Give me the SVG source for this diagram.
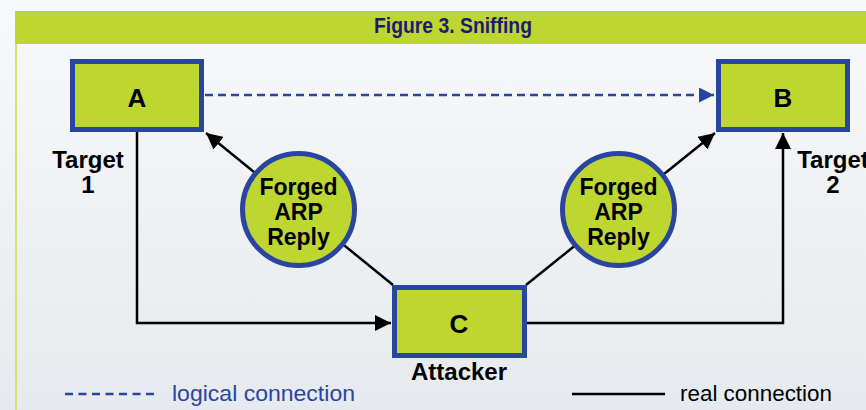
<svg xmlns="http://www.w3.org/2000/svg" width="866" height="410" viewBox="0 0 866 410">
<defs>
<linearGradient id="bg" x1="0" y1="0" x2="0" y2="1">
<stop offset="0" stop-color="#f8f9fa"/>
<stop offset="1" stop-color="#e6eaee"/>
</linearGradient>
<marker id="ah" viewBox="0 0 10 10" refX="10" refY="5" markerWidth="6.5" markerHeight="6.5" orient="auto" markerUnits="strokeWidth">
<path d="M0,0 L10,5 L0,10 z" fill="#000"/>
</marker>
<marker id="ahb" viewBox="0 0 10 10" refX="10" refY="5" markerWidth="6" markerHeight="6" orient="auto" markerUnits="strokeWidth">
<path d="M0,0 L10,5 L0,10 z" fill="#2a45a0"/>
</marker>
</defs>
<style>
.box{fill:#bdd630;stroke:#2a45a0;stroke-width:5}
.circ{fill:#bdd630;stroke:#2a45a0;stroke-width:5}
.lbl{font-family:"Liberation Sans",Arial,sans-serif;font-weight:bold;fill:#000;text-anchor:middle}
.node{font-size:26px}
.real{stroke:#000;stroke-width:2.5;fill:none}
.logic{stroke:#2a45a0;stroke-width:2.5;fill:none;stroke-dasharray:8 5}
.leg{font-family:"Liberation Sans",Arial,sans-serif;font-size:22px}
</style>
<rect x="0" y="0" width="866" height="410" fill="url(#bg)"/>
<rect x="15" y="11" width="851" height="33" fill="#bdd630"/>
<line x1="16" y1="44" x2="16" y2="410" stroke="#d6e26a" stroke-width="2"/>
<text x="453" y="33" font-family="Liberation Sans,Arial,sans-serif" font-weight="bold" font-size="22" fill="#1c1a72" text-anchor="middle" textLength="158" lengthAdjust="spacingAndGlyphs">Figure 3. Sniffing</text>

<g id="connectors">
<line class="logic" x1="205" y1="95" x2="714" y2="95" marker-end="url(#ahb)"/>
<line class="real" x1="393" y1="285" x2="206" y2="133" marker-end="url(#ah)"/>
<line class="real" x1="526" y1="285" x2="715" y2="133" marker-end="url(#ah)"/>
<polyline class="real" points="137,132 137,323 391,323" marker-end="url(#ah)"/>
<polyline class="real" points="527,323 783,323 783,133" marker-end="url(#ah)"/>
</g>

<g id="nodeA">
<rect class="box" x="72.5" y="61.5" width="129" height="68"/>
<text class="lbl node" x="137" y="107">A</text>
</g>
<g id="nodeB">
<rect class="box" x="718.5" y="61.5" width="129" height="68"/>
<text class="lbl node" x="783" y="107">B</text>
</g>
<g id="nodeC">
<rect class="box" x="394.5" y="287.5" width="130" height="68"/>
<text class="lbl node" x="459" y="333">C</text>
</g>
<g id="forged1">
<circle class="circ" cx="298.5" cy="209.5" r="56"/>
<text class="lbl" x="298.5" y="195" style="font-size:23px">Forged</text>
<text class="lbl" x="298.5" y="220" style="font-size:23px">ARP</text>
<text class="lbl" x="298.5" y="245" style="font-size:23px">Reply</text>
</g>
<g id="forged2">
<circle class="circ" cx="618.5" cy="209.5" r="56"/>
<text class="lbl" x="618.5" y="195" style="font-size:23px">Forged</text>
<text class="lbl" x="618.5" y="220" style="font-size:23px">ARP</text>
<text class="lbl" x="618.5" y="245" style="font-size:23px">Reply</text>
</g>
<g id="labels">
<text class="lbl" x="88" y="168" style="font-size:24px">Target</text>
<text class="lbl" x="88" y="193" style="font-size:24px">1</text>
<text class="lbl" x="833" y="168" style="font-size:24px">Target</text>
<text class="lbl" x="833" y="193" style="font-size:24px">2</text>
<text class="lbl" x="459" y="380" style="font-size:24px">Attacker</text>
</g>
<g id="legend">
<line x1="65" y1="394" x2="156" y2="394" stroke="#2a45a0" stroke-width="2.5" stroke-dasharray="8 5.5"/>
<text class="leg" x="172" y="401" fill="#2a45a0" textLength="183" lengthAdjust="spacingAndGlyphs">logical connection</text>
<line class="real" x1="572" y1="394" x2="665" y2="394"/>
<text class="leg" x="680" y="401" fill="#000" textLength="152" lengthAdjust="spacingAndGlyphs">real connection</text>
</g>
</svg>
